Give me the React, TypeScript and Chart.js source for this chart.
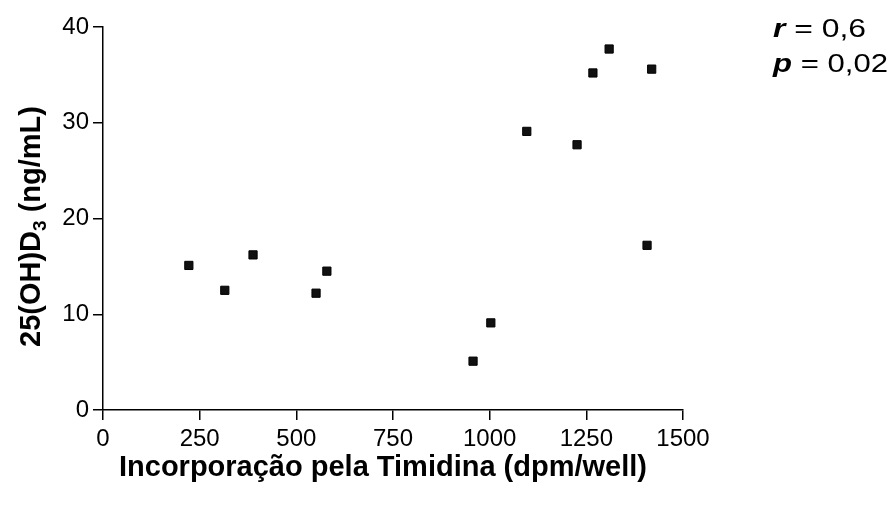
import React, { useEffect, useRef } from 'react';
import { Chart, registerables } from 'chart.js';

Chart.register(...registerables);

const xValues = [222, 315, 388, 551, 579, 957, 1003, 1096, 1226, 1267, 1309, 1407, 1419];
const yValues = [15.1, 12.5, 16.2, 12.2, 14.5, 5.1, 9.1, 29.1, 27.7, 35.2, 37.7, 17.2, 35.6];
const xTicks = [0, 250, 500, 750, 1000, 1250, 1500];
const yTicks = [0, 10, 20, 30, 40];
const xTitle = 'Incorporação pela Timidina (dpm/well)';
const yTitleMain = '25(OH)D';
const yTitleSub = '3';
const yTitleRest = ' (ng/mL)';
const statLabels = ['r', 'p'];
const statValues = [' = 0,6', ' = 0,02'];

const FONT = '"Liberation Sans", Arial, Helvetica, sans-serif';

const textPlugin = {
  id: 'customText',
  afterDraw(chart: any) {
    const ctx = chart.ctx as CanvasRenderingContext2D;
    const area = chart.chartArea;
    ctx.save();
    ctx.fillStyle = '#000';
    // x title
    ctx.font = `bold 29px ${FONT}`;
    ctx.textAlign = 'center';
    ctx.textBaseline = 'alphabetic';
    ctx.fillText(xTitle, (area.left + area.right) / 2 - 10, 476);

    // y title (rotated, with subscript)
    const mainFont = `bold 29px ${FONT}`;
    const subFont = `bold 19px ${FONT}`;
    ctx.font = mainFont;
    const w1 = ctx.measureText(yTitleMain).width;
    const w3 = ctx.measureText(yTitleRest).width;
    ctx.font = subFont;
    const w2 = ctx.measureText(yTitleSub).width;
    const total = w1 + w2 + w3;
    const cy = (area.top + area.bottom) / 2 + 8;
    ctx.translate(40, cy);
    ctx.rotate(-Math.PI / 2);
    ctx.textAlign = 'left';
    let x0 = -total / 2;
    ctx.font = mainFont;
    ctx.fillText(yTitleMain, x0, 0);
    x0 += w1;
    ctx.font = subFont;
    ctx.fillText(yTitleSub, x0, 6);
    x0 += w2;
    ctx.font = mainFont;
    ctx.fillText(yTitleRest, x0, 0);
    ctx.restore();

    // stats (r, p) — slightly widened text as in the reference
    const baselines = [37, 72];
    const targetWidths = [93, 115];
    statLabels.forEach((lab, i) => {
      ctx.save();
      ctx.fillStyle = '#000';
      ctx.textAlign = 'left';
      ctx.textBaseline = 'alphabetic';
      const boldF = `italic bold 26px ${FONT}`;
      const regF = `26px ${FONT}`;
      ctx.font = boldF;
      const lw = ctx.measureText(lab).width;
      ctx.font = regF;
      const vw = ctx.measureText(statValues[i]).width;
      const sx = targetWidths[i] / (lw + vw);
      ctx.translate(773, baselines[i]);
      ctx.scale(sx, 1);
      ctx.font = boldF;
      ctx.fillText(lab, 0, 0);
      ctx.font = regF;
      ctx.fillText(statValues[i], lw, 0);
      ctx.restore();
    });
  },
};

export default function App() {
  const canvasRef = useRef<HTMLCanvasElement | null>(null);

  useEffect(() => {
    document.body.style.margin = '0';
    const canvas = canvasRef.current;
    if (!canvas) return;
    const chart = new Chart(canvas, {
      type: 'scatter',
      data: {
        datasets: [
          {
            data: xValues.map((x, i) => ({ x, y: yValues[i] })),
            pointStyle: 'rect',
            pointRadius: 5.8,
            pointHoverRadius: 5.8,
            backgroundColor: '#111',
            borderColor: '#000',
            borderWidth: 1,
          },
        ],
      },
      options: {
        responsive: false,
        animation: false,
        devicePixelRatio: 1,
        layout: { padding: { top: 27, right: 210, bottom: 0, left: 0 } },
        plugins: {
          legend: { display: false },
          tooltip: { enabled: false },
          title: { display: false },
        },
        scales: {
          x: {
            type: 'linear',
            min: 0,
            max: 1500,
            afterBuildTicks: (scale: any) => {
              scale.ticks = xTicks.map((v) => ({ value: v }));
            },
            afterFit: (scale: any) => {
              scale.height = 96;
            },
            ticks: {
              color: '#000',
              font: { family: FONT, size: 24 },
              padding: 5,
              maxRotation: 0,
              autoSkip: false,
              callback: (v: any) => String(v),
            },
            grid: {
              drawOnChartArea: false,
              drawTicks: true,
              tickLength: 10,
              color: '#000',
              lineWidth: 1.5,
            },
            border: { display: true, color: '#000', width: 1.5 },
          },
          y: {
            type: 'linear',
            min: 0,
            max: 40,
            afterBuildTicks: (scale: any) => {
              scale.ticks = yTicks.map((v) => ({ value: v }));
            },
            afterFit: (scale: any) => {
              scale.width = 103;
            },
            ticks: {
              color: '#000',
              font: { family: FONT, size: 24 },
              padding: 4,
              autoSkip: false,
              callback: (v: any) => String(v),
            },
            grid: {
              drawOnChartArea: false,
              drawTicks: true,
              tickLength: 10,
              color: '#000',
              lineWidth: 1.5,
            },
            border: { display: true, color: '#000', width: 1.5 },
          },
        },
      },
      plugins: [textPlugin],
    });
    return () => chart.destroy();
  }, []);

  return (
    <div style={{ position: 'absolute', left: 0, top: 0, width: 893, height: 506, background: '#fff' }}>
      <canvas ref={canvasRef} width={893} height={506} style={{ width: 893, height: 506 }} />
    </div>
  );
}
